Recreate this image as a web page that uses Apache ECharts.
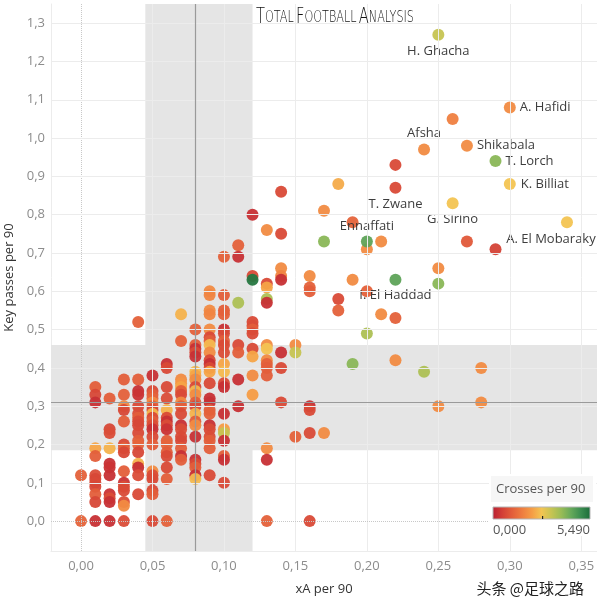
<!DOCTYPE html>
<html><head><meta charset="utf-8">
<script src="https://cdn.jsdelivr.net/npm/echarts@6/dist/echarts.min.js"></script>
<style>html,body{margin:0;padding:0;background:#fff}#c{width:597px;height:608px}</style>
</head><body><div id="c"></div>
<script>
// ---- data ----
const xa = [
 0.00,0.00,
 0.01,0.01,0.01,0.01,0.01,0.01,0.01,0.01,0.01,0.01,0.01,0.01,
 0.02,0.02,0.02,0.02,0.02,0.02,0.02,0.02,0.02,0.02,0.02,
 0.03,0.03,0.03,0.03,0.03,0.03,0.03,0.03,0.03,0.03,0.03,0.03,0.03,0.03,0.03,
 0.04,0.04,0.04,0.04,0.04,0.04,0.04,0.04,0.04,0.04,0.04,0.04,0.04,0.04,0.04,0.04,0.04,
 0.05,0.05,0.05,0.05,0.05,0.05,0.05,0.05,0.05,0.05,0.05,0.05,0.05,0.05,0.05,0.05,0.05,0.05,0.05,0.05,
 0.06,0.06,0.06,0.06,0.06,0.06,0.06,0.06,0.06,0.06,0.06,0.06,0.06,0.06,0.06,0.06,
 0.07,0.07,0.07,0.07,0.07,0.07,0.07,0.07,0.07,0.07,0.07,0.07,0.07,0.07,0.07,0.07,0.07,
 0.08,0.08,0.08,0.08,0.08,0.08,0.08,0.08,0.08,0.08,0.08,0.08,0.08,0.08,0.08,0.08,0.08,0.08,0.08,0.08,0.08,0.08,
 0.09,0.09,0.09,0.09,0.09,0.09,0.09,0.09,0.09,0.09,0.09,0.09,0.09,0.09,0.09,0.09,0.09,0.09,0.09,0.09,0.09,0.09,0.09,0.09,
 0.10,0.10,0.10,0.10,0.10,0.10,0.10,0.10,0.10,0.10,0.10,0.10,0.10,0.10,0.10,0.10,0.10,0.10,0.10,0.10,
 0.11,0.11,0.11,0.11,0.11,0.11,0.11,
 0.12,0.12,0.12,0.12,0.12,0.12,0.12,0.12,0.12,0.12,0.12,
 0.13,0.13,0.13,0.13,0.13,0.13,0.13,0.13,0.13,0.13,0.13,0.13,0.13,0.13,
 0.14,0.14,0.14,0.14,0.14,0.14,0.14,0.14,
 0.15,0.15,0.15,
 0.16,0.16,0.16,0.16,0.16,0.16,0.16,
 0.17,0.17,0.17,
 0.18,0.18,0.18,
 0.19,0.19,0.19,
 0.20,0.20,0.20,
 0.21,0.21,
 0.22,0.22,0.22,
 0.24,
 0.25,0.25,0.25,
 0.26,
 0.27,
 0.28,0.28,
 0.29
];
const kp = [
 0.12,0.00,
 0.35,0.33,0.31,0.19,0.17,0.12,0.11,0.10,0.09,0.07,0.05,0.00,
 0.32,0.24,0.23,0.19,0.15,0.14,0.12,0.07,0.06,0.05,0.00,
 0.37,0.33,0.30,0.29,0.26,0.20,0.19,0.18,0.13,0.10,0.09,0.08,0.05,0.04,0.00,
 0.52,0.37,0.34,0.33,0.30,0.28,0.27,0.26,0.25,0.23,0.21,0.20,0.18,0.15,0.14,0.12,0.07,
 0.38,0.34,0.33,0.32,0.31,0.30,0.29,0.28,0.27,0.26,0.25,0.24,0.22,0.20,0.13,0.12,0.11,0.08,0.07,0.00,
 0.41,0.40,0.35,0.32,0.29,0.27,0.26,0.25,0.24,0.21,0.20,0.18,0.17,0.14,0.11,0.00,
 0.54,0.47,0.37,0.36,0.35,0.34,0.33,0.31,0.30,0.28,0.25,0.24,0.22,0.21,0.19,0.17,0.16,
 0.50,0.46,0.45,0.44,0.43,0.39,0.38,0.37,0.35,0.34,0.33,0.31,0.30,0.28,0.26,0.25,0.22,0.16,0.15,0.14,0.12,0.11,
 0.60,0.59,0.55,0.54,0.50,0.48,0.47,0.46,0.44,0.42,0.41,0.40,0.39,0.36,0.32,0.31,0.29,0.28,0.25,0.24,0.22,0.21,0.19,0.12,
 0.69,0.59,0.55,0.54,0.50,0.49,0.47,0.46,0.44,0.41,0.39,0.36,0.35,0.28,0.24,0.23,0.21,0.17,0.16,0.10,
 0.72,0.69,0.57,0.46,0.44,0.37,0.30,
 0.80,0.64,0.63,0.52,0.51,0.50,0.49,0.45,0.43,0.38,0.33,
 0.76,0.62,0.61,0.58,0.57,0.46,0.45,0.42,0.41,0.40,0.38,0.19,0.16,0.00,
 0.86,0.75,0.66,0.64,0.63,0.44,0.40,0.31,
 0.46,0.44,0.22,
 0.64,0.61,0.60,0.30,0.29,0.23,0.00,
 0.81,0.73,0.23,
 0.88,0.58,0.55,
 0.78,0.63,0.41,
 0.71,0.60,0.49,
 0.73,0.54,
 0.93,0.53,0.42,
 0.39,
 0.66,0.62,0.30,
 1.05,
 0.73,
 0.40,0.31,
 0.71
];
const crosses = [
 1.15,1.2,
 1.1,0.7,0.3,2.3,1.1,0.8,0.7,0.75,0.7,1.1,0.7,0.3,
 1.1,0.7,0.8,2.5,0.3,0.35,0.3,0.35,0.8,0.3,0.3,
 1.1,1.15,1.9,0.7,1.1,0.75,1.2,0.7,1.1,0.35,0.8,0.75,0.8,1.9,0.8,
 1.15,1.1,0.3,0.35,0.75,0.8,1.1,0.75,0.7,0.75,1.1,1.2,0.7,2.5,0.3,0.8,0.75,
 0.3,0.75,1.1,1.2,1.9,1.1,0.7,2.55,0.75,1.1,0.8,0.3,0.75,1.1,1.9,0.8,0.75,0.75,1.1,0.75,
 0.3,0.75,0.75,0.8,2.5,0.75,0.3,0.8,0.35,1.1,1.2,1.1,0.75,0.75,1.1,1.15,
 2.5,1.15,1.9,2.1,2.3,1.1,0.75,1.9,1.1,0.75,0.3,0.8,0.75,0.7,1.1,0.3,1.1,
 1.15,1.1,0.3,0.75,0.3,2.6,2.3,1.9,0.75,2.55,1.9,1.1,0.75,2.5,1.1,1.9,0.3,0.3,0.75,1.1,0.3,2.6,
 1.9,1.8,1.9,1.8,1.9,0.75,1.1,2.6,1.9,0.75,0.3,0.75,2.3,0.75,0.3,0.3,1.1,1.15,0.3,0.75,0.8,1.1,1.1,0.75,
 1.15,1.1,1.1,1.15,0.3,0.75,1.1,0.75,0.8,2.3,2.6,0.75,0.3,0.3,2.2,3.3,0.3,1.1,0.3,0.75,
 1.15,0.3,3.6,0.75,1.1,0.3,0.3,
 0.3,0.75,5.3,0.75,0.8,1.1,0.75,0.75,2.3,1.9,2.2,
 1.9,0.75,2.3,3.6,0.3,1.9,2.75,1.9,1.15,1.1,1.1,1.9,0.3,1.15,
 0.75,0.75,1.9,1.8,0.3,0.3,0.75,0.75,
 1.9,3.3,1.15,
 1.9,1.15,1.1,0.3,0.75,0.75,0.75,
 1.9,4.0,1.9,
 2.4,0.75,1.15,
 1.2,1.9,4.0,
 1.9,1.15,3.6,
 1.9,1.9,
 0.75,1.15,1.9,
 3.6,
 1.9,4.0,1.9,
 1.7,
 1.0,
 1.9,1.9,
 0.6
];
const labelNames   = ['H. Ghacha','A. Hafidi','Afsha','Shikabala','T. Lorch','K. Billiat','T. Zwane','G. Sirino','Ennaffati','I. El Haddad','A. El Mobaraky'];
const labelXA      = [0.25, 0.30, 0.24, 0.27, 0.29, 0.30, 0.22, 0.26, 0.20, 0.22, 0.34];
const labelKP      = [1.27, 1.08, 0.97, 0.98, 0.94, 0.88, 0.87, 0.83, 0.73, 0.63, 0.78];
const labelCrosses = [3.3, 1.9, 1.9, 1.9, 4.0, 2.75, 0.75, 2.75, 4.5, 4.5, 2.75];
const xTicks = [0, 0.05, 0.10, 0.15, 0.20, 0.25, 0.30, 0.35];
const yTicks = [0, 0.1, 0.2, 0.3, 0.4, 0.5, 0.6, 0.7, 0.8, 0.9, 1.0, 1.1, 1.2, 1.3];
const bandXA = [0.045, 0.12];
const bandKP = [0.185, 0.46];
const avgXA = 0.08;
const avgKP = 0.31;
const crossesRange = [0, 5.49];
const crossesRangeLabels = ['0,000', '5,490'];

// ---- styling ----
const FONT = "'Open Sans', 'Noto Sans', sans-serif";
const palette = ['#b91f33','#d33f36','#e35e3a','#ee7c3f','#f59c45','#f3c452','#c6c452','#99bc56','#66a95a','#3b8d50','#1b6c39'];
const labelPos = {
  'H. Ghacha': {position:'bottom', distance:4},
  'A. Hafidi': {position:'right', distance:4},
  'Afsha': {position:'top', distance:4},
  'Shikabala': {position:'right', distance:4},
  'T. Lorch': {position:'right', distance:4},
  'K. Billiat': {position:'right', distance:5},
  'T. Zwane': {position:'bottom', distance:4},
  'G. Sirino': {position:'bottom', distance:4},
  'Ennaffati': {position:'top', distance:3},
  'I. El Haddad': {position:'bottom', distance:3},
  'A. El Mobaraky': {position:'bottom', distance:4, offset:[-16,0]}
};

const pts = xa.map((x,i)=>[x, kp[i], crosses[i]]);
labelNames.forEach((n,i)=>{
  pts.push({name:n, value:[labelXA[i], labelKP[i], labelCrosses[i]],
    label:Object.assign({show:true, formatter:'{b}', color:'#333', fontSize:13, fontFamily:FONT}, labelPos[n])});
});

const fmt = (d)=>(v)=>v.toFixed(d).replace('.', ',');

const gridLines = [];
xTicks.forEach(v=>{ gridLines.push({xAxis:v, lineStyle: v===0 ? {color:'#c8c8c8', type:'dotted', width:1} : {color:'#ececec', type:'solid', width:1}}); });
yTicks.forEach(v=>{ gridLines.push({yAxis:v, lineStyle: v===0 ? {color:'#c8c8c8', type:'dotted', width:1} : {color:'#ececec', type:'solid', width:1}}); });

const chart = echarts.init(document.getElementById('c'), null, {renderer:'canvas'});
const LG = {x:493, y:507, w:97, h:12};
chart.setOption({
  animation:false,
  backgroundColor:'#fff',
  grid:{left:51, right:0, top:4, bottom:57, containLabel:false, outerBoundsMode:'none'},
  xAxis:{type:'value', min:-0.021, max:0.361, minInterval:0.05, maxInterval:0.05,
    splitLine:{show:false}, axisTick:{show:false},
    axisLine:{show:true, onZero:false, lineStyle:{color:'#ececec'}},
    axisLabel:{showMinLabel:false, showMaxLabel:false, formatter:fmt(2), color:'#8c8c8c', fontSize:13, margin:9, fontFamily:FONT},
    name:'xA per 90', nameLocation:'middle', nameGap:32, nameTextStyle:{color:'#333', fontSize:13, fontFamily:FONT}},
  yAxis:{type:'value', min:-0.078, max:1.35, minInterval:0.1, maxInterval:0.1,
    splitLine:{show:false}, axisTick:{show:false},
    axisLine:{show:true, onZero:false, lineStyle:{color:'#ececec'}},
    axisLabel:{showMinLabel:false, showMaxLabel:false, formatter:fmt(1), color:'#8c8c8c', fontSize:13, margin:6, fontFamily:FONT},
    name:'Key passes per 90', nameLocation:'middle', nameGap:33, nameTextStyle:{color:'#333', fontSize:13, fontFamily:FONT}},
  visualMap:{type:'continuous', show:false, min:crossesRange[0], max:crossesRange[1], dimension:2, seriesIndex:2, inRange:{color:palette}},
  series:[
    {type:'scatter', data:[], z:1, silent:true,
     markArea:{silent:true, itemStyle:{color:'#e5e5e5'}, label:{show:false},
       data:[[{xAxis:bandXA[0]},{xAxis:bandXA[1]}],[{yAxis:bandKP[0]},{yAxis:bandKP[1]}]]}},
    {type:'scatter', data:[], z:2, silent:true,
     markLine:{silent:true, symbol:'none', label:{show:false}, animation:false, data:gridLines}},
    {type:'scatter', data:pts, z:3, symbolSize:12, itemStyle:{opacity:0.95}},
    {type:'scatter', data:[], z:4, silent:true,
     markLine:{silent:true, symbol:'none', label:{show:false}, animation:false,
       lineStyle:{color:'#9a9a9a', width:1.2, type:'solid'},
       data:[{xAxis:avgXA},{yAxis:avgKP}]}}
  ],
  graphic:[
    {type:'text', left:256, top:7, z:100, scaleX:0.70,
     style:{text:'{b|T}{s|OTAL} {b|F}{s|OOTBALL} {b|A}{s|NALYSIS}',
       rich:{b:{fontSize:21, fontFamily:"'DejaVu Sans'", fill:'#111', fontWeight:200},
             s:{fontSize:16, fontFamily:"'DejaVu Sans'", fill:'#111', fontWeight:200}}}},
    {type:'rect', z:100, shape:{x:489, y:474, width:107, height:62}, style:{fill:'#ffffff'}},
    {type:'rect', z:101, shape:{x:491, y:476, width:102, height:26}, style:{fill:'#f6f6f6'}},
    {type:'text', z:102, x:496, y:489, style:{text:'Crosses per 90', fontSize:13, fontFamily:FONT, fill:'#555', verticalAlign:'middle'}},
    {type:'rect', z:102, shape:{x:LG.x, y:LG.y, width:LG.w, height:LG.h},
     style:{stroke:'#b5b5b5', lineWidth:1,
       fill:new echarts.graphic.LinearGradient(0,0,1,0, palette.map((c,i)=>({offset:i/(palette.length-1), color:c})))}},
    {type:'rect', z:103, shape:{x:LG.x+LG.w*0.505, y:LG.y+LG.h-3, width:1.2, height:3}, style:{fill:'#222'}},
    {type:'text', z:102, x:LG.x, y:LG.y+LG.h+11, style:{text:crossesRangeLabels[0], fontSize:13, fontFamily:FONT, fill:'#555', verticalAlign:'middle', align:'left'}},
    {type:'text', z:102, x:LG.x+LG.w, y:LG.y+LG.h+11, style:{text:crossesRangeLabels[1], fontSize:13, fontFamily:FONT, fill:'#555', verticalAlign:'middle', align:'right'}},
    {type:'text', z:102, x:584, y:588, style:{text:'头条 @足球之路', fontSize:15, fontFamily:"'Noto Sans CJK SC', sans-serif", fill:'#222', align:'right', verticalAlign:'middle'}}
  ]
});
</script></body></html>
